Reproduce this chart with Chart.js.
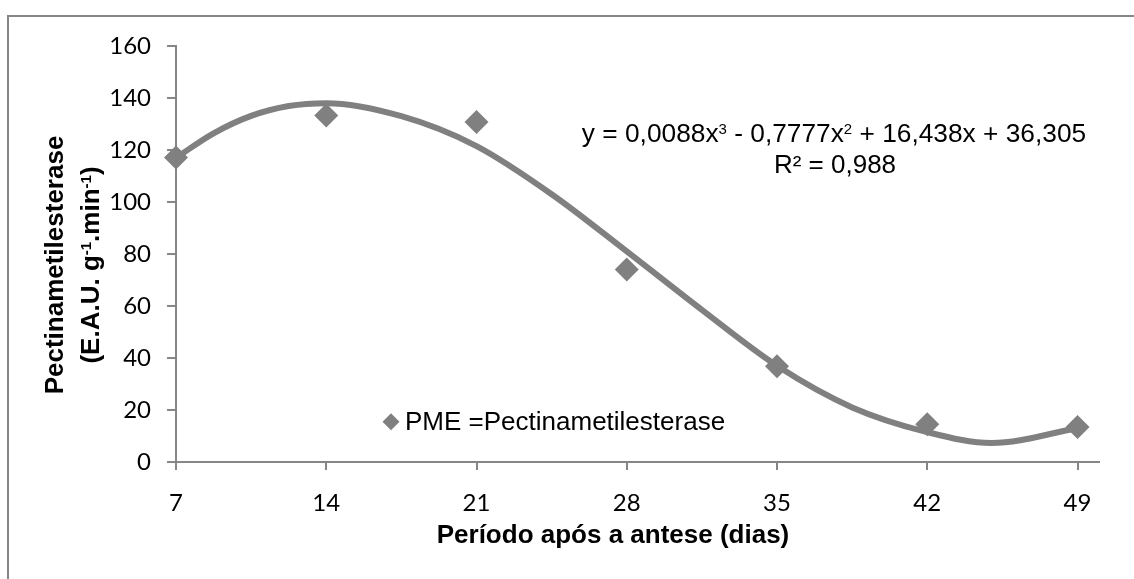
<!DOCTYPE html>
<html>
<head>
<meta charset="utf-8">
<script src="https://cdn.jsdelivr.net/npm/chart.js@4/dist/chart.umd.min.js"></script>
<style>
    html, body { margin: 0; padding: 0; background: #ffffff; }
    canvas { display: block; }
</style>
</head>
<body>
<canvas id="pme_chart" width="1134" height="579"></canvas>
<script>
// período após a antese (dias)
const periodo_dias = [7, 14, 21, 28, 35, 42, 49];
// PME (E.A.U. g-1.min-1)
const pme_valores = [117.1, 133.3, 130.8, 74.0, 36.8, 14.5, 13.5];
// linha de tendência (polinomial)
const tendencia_dias = [7, 8.75, 10.5, 12.25, 14, 17.5, 21, 24.5, 28, 31.5, 35, 38.5, 42, 45, 49];
const tendencia_valores = [117, 126.4, 133.1, 136.9, 138, 133, 121.5, 103, 81, 58.5, 37, 21, 11.5, 7.3, 13];
// marcas dos eixos
const x_ticks = [7, 14, 21, 28, 35, 42, 49];
const y_ticks = [0, 20, 40, 60, 80, 100, 120, 140, 160];

const GRAY = '#808080';
const AXIS_GRAY = '#868686';
const ARIAL = '"Liberation Sans", Arial, sans-serif';

/**
 * Desenha um texto com partes sobrescritas, centralizado em x.
 * @param {Array} parts [{t: texto, sup: bool}]
 */
const drawRichText = (ctx, parts, x, y, size, bold) => {
    const weight = bold ? 'bold ' : '';
    const mainFont = `${weight}${size}px ${ARIAL}`;
    const supFont = `${weight}${Math.round(size * 0.58)}px ${ARIAL}`;
    let total = 0;
    for (const p of parts) {
        ctx.font = p.sup ? supFont : mainFont;
        total += ctx.measureText(p.t).width;
    }
    let cx = x - total / 2;
    ctx.textAlign = 'left';
    ctx.textBaseline = 'alphabetic';
    for (const p of parts) {
        ctx.font = p.sup ? supFont : mainFont;
        ctx.fillText(p.t, cx, p.sup ? y - size * 0.3 : y);
        cx += ctx.measureText(p.t).width;
    }
};

// moldura, títulos, legenda e equação
const annotationPlugin = {
    id: 'annotations',
    afterDraw: (chart) => {
        const ctx = chart.ctx;
        ctx.save();
        // moldura
        ctx.strokeStyle = AXIS_GRAY;
        ctx.lineWidth = 2;
        ctx.strokeRect(8, 16, 1200, 700);

        ctx.fillStyle = '#000000';
        // título do eixo x
        ctx.font = `bold 26px ${ARIAL}`;
        ctx.textAlign = 'center';
        ctx.textBaseline = 'alphabetic';
        ctx.fillText('Período após a antese (dias)', 613, 543);

        // título do eixo y (duas linhas, rotacionado)
        ctx.save();
        ctx.translate(63, 265);
        ctx.rotate(-Math.PI / 2);
        ctx.font = `bold 26px ${ARIAL}`;
        ctx.textAlign = 'center';
        ctx.fillText('Pectinametilesterase', 0, 0);
        ctx.restore();
        ctx.save();
        ctx.translate(99, 265);
        ctx.rotate(-Math.PI / 2);
        drawRichText(ctx, [
            {t: '(E.A.U. g'}, {t: '-1', sup: true}, {t: '.min'}, {t: '-1', sup: true}, {t: ')'}
        ], 0, 0, 26, true);
        ctx.restore();

        // equação da linha de tendência
        drawRichText(ctx, [
            {t: 'y = 0,0088x'}, {t: '3', sup: true}, {t: ' - 0,7777x'}, {t: '2', sup: true},
            {t: ' + 16,438x + 36,305'}
        ], 834, 142, 26.3, false);
        ctx.font = `26px ${ARIAL}`;
        ctx.textAlign = 'center';
        ctx.fillText('R² = 0,988', 835, 173);

        // legenda
        const lx = 391, ly = 421.7, r = 8.5;
        ctx.fillStyle = GRAY;
        ctx.beginPath();
        ctx.moveTo(lx, ly - r);
        ctx.lineTo(lx + r, ly);
        ctx.lineTo(lx, ly + r);
        ctx.lineTo(lx - r, ly);
        ctx.closePath();
        ctx.fill();
        ctx.fillStyle = '#000000';
        ctx.font = `26px ${ARIAL}`;
        ctx.textAlign = 'left';
        ctx.textBaseline = 'middle';
        ctx.fillText('PME =Pectinametilesterase', 405, ly + 1);
        ctx.restore();
    }
};

const tendencia = tendencia_dias.map((d, i) => ({x: d, y: tendencia_valores[i]}));
const pontos = periodo_dias.map((d, i) => ({x: d, y: pme_valores[i]}));

new Chart(document.getElementById('pme_chart').getContext('2d'), {
    type: 'scatter',
    data: {
        datasets: [
            {
                label: 'PME =Pectinametilesterase',
                data: pontos,
                pointStyle: 'rectRot',
                pointRadius: 12,
                backgroundColor: GRAY,
                borderColor: GRAY,
                borderWidth: 0,
                clip: false
            },
            {
                label: 'Polinômio',
                data: tendencia,
                showLine: true,
                cubicInterpolationMode: 'monotone',
                borderColor: GRAY,
                borderWidth: 6,
                pointRadius: 0,
                clip: false
            }
        ]
    },
    options: {
        responsive: false,
        animation: false,
        events: [],
        layout: { padding: { top: 46, right: 35, left: 0, bottom: 0 } },
        plugins: {
            legend: { display: false },
            tooltip: { enabled: false }
        },
        scales: {
            x: {
                type: 'linear',
                min: 7,
                max: 50,
                afterBuildTicks: (scale) => { scale.ticks = x_ticks.map(v => ({value: v})); },
                afterFit: (scale) => { scale.height = 117; },
                grid: { drawOnChartArea: false, tickLength: 8, color: AXIS_GRAY, lineWidth: 2 },
                border: { color: AXIS_GRAY, width: 2 },
                ticks: {
                    font: { family: 'Lato', size: 24 },
                    color: '#000000',
                    padding: 19,
                    maxRotation: 0,
                    autoSkip: false
                }
            },
            y: {
                min: 0,
                max: 160,
                afterBuildTicks: (scale) => { scale.ticks = y_ticks.map(v => ({value: v})); },
                afterFit: (scale) => { scale.width = 176; },
                grid: { drawOnChartArea: false, tickLength: 9, color: AXIS_GRAY, lineWidth: 2 },
                border: { color: AXIS_GRAY, width: 2 },
                ticks: {
                    font: { family: 'Lato', size: 24 },
                    color: '#000000',
                    padding: 16
                }
            }
        }
    },
    plugins: [annotationPlugin]
});
</script>
</body>
</html>
